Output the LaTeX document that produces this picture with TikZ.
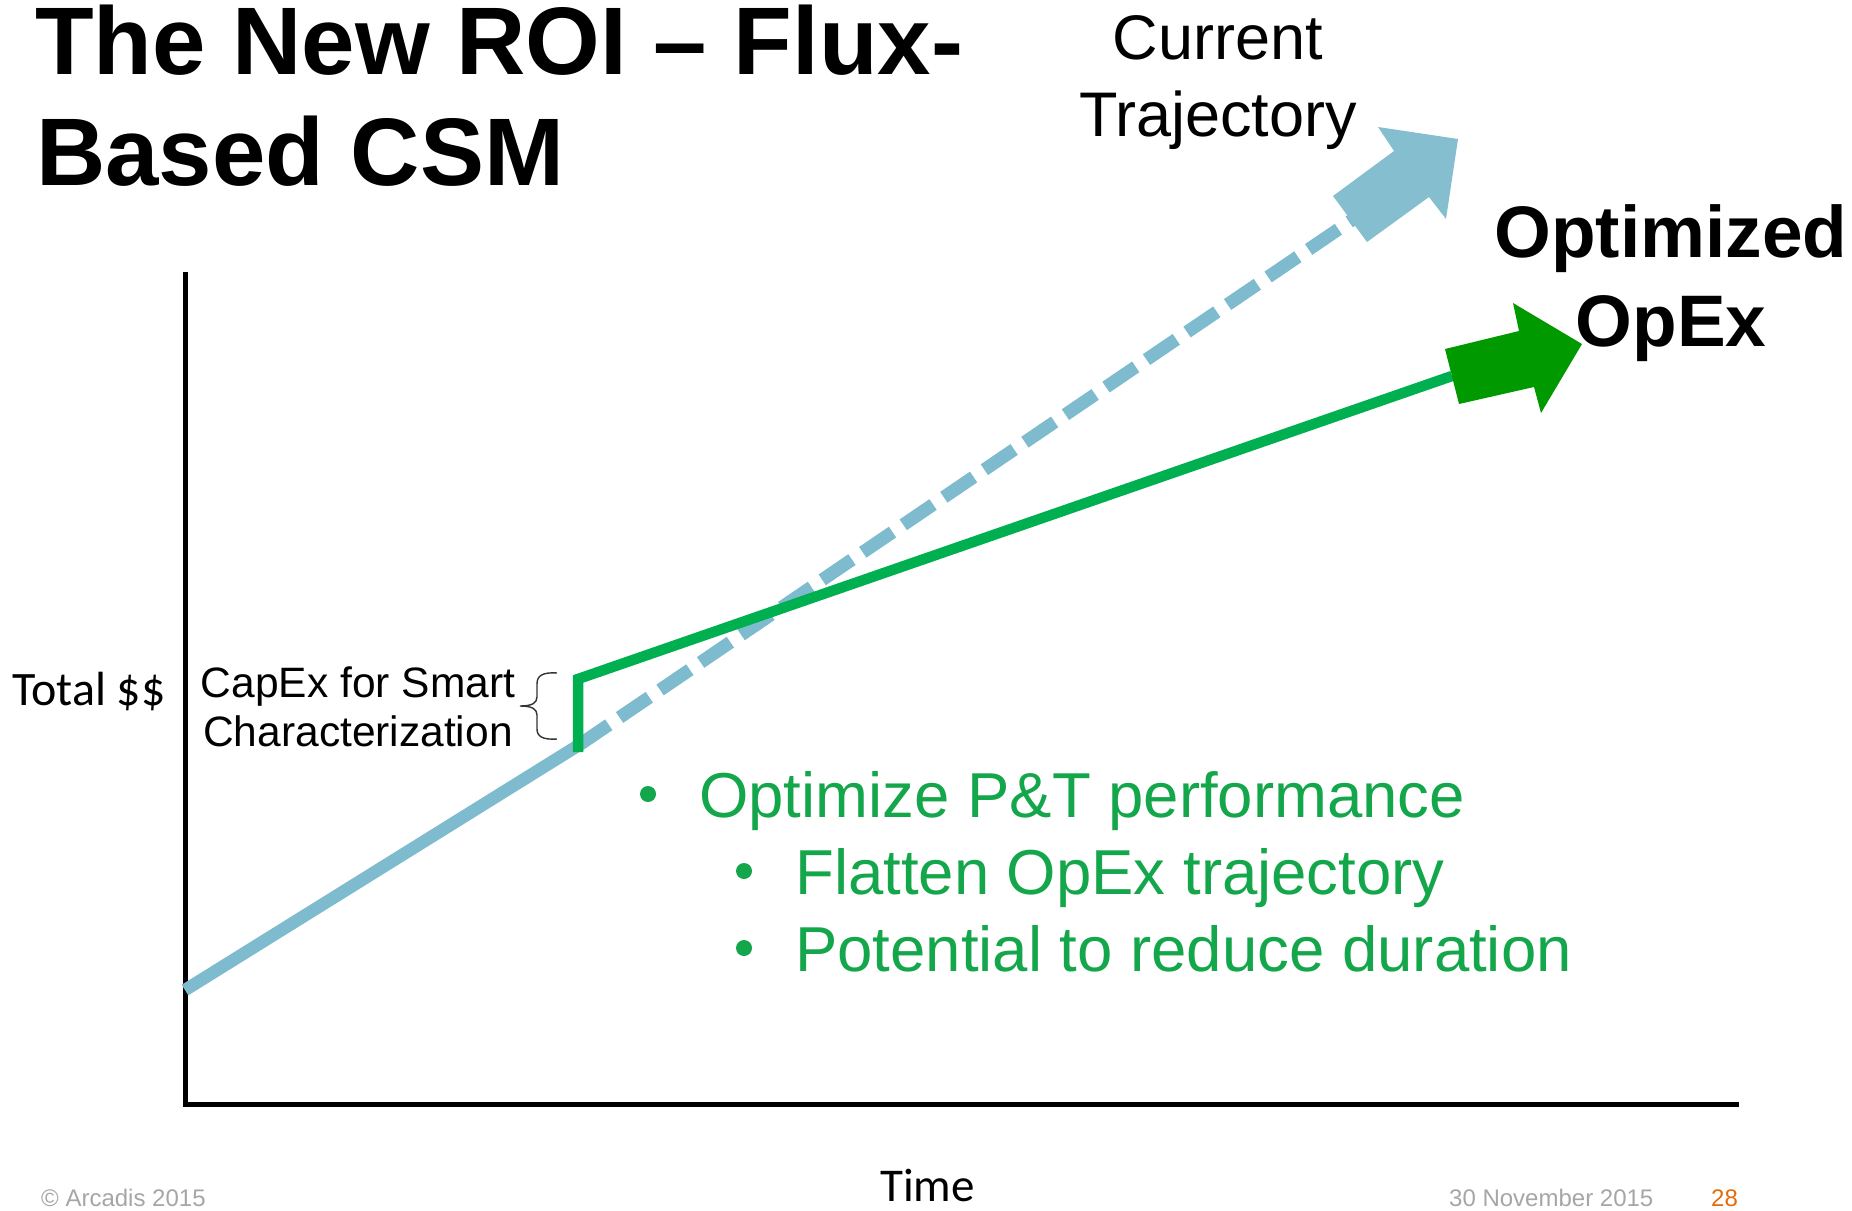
\documentclass[tikz,border=0pt]{standalone}
\usepackage{fontspec}
\setmainfont{Liberation Sans}
\newfontfamily\calfont{Carlito}
\definecolor{trajblue}{RGB}{127,187,206}
\definecolor{headblue}{RGB}{132,190,207}
\definecolor{optgreen}{RGB}{0,176,80}
\definecolor{headgreen}{RGB}{0,153,0}
\definecolor{txtgreen}{RGB}{20,166,74}
\definecolor{footgray}{RGB}{166,166,166}
\definecolor{pageorange}{RGB}{228,108,10}
\tikzset{
  lbl/.style={inner sep=0pt, anchor=base west},
  lblc/.style={inner sep=0pt, anchor=base},
  titlefont/.style={font=\bfseries\fontsize{96}{114}\selectfont},
  axisline/.style={line width=5pt, black, line join=miter},
  bluesolid/.style={line width=12.5pt, trajblue},
  bluedash/.style={line width=13pt, trajblue, dash pattern=on 36pt off 13pt},
  greenline/.style={line width=10.5pt, optgreen, line join=miter},
  bullettext/.style={lbl, text=txtgreen, font=\fontsize{63.5}{76}\selectfont},
  bulletdot/.style={circle, fill=txtgreen, inner sep=0pt, minimum size=16pt},
  foot/.style={lbl, text=footgray, font=\fontsize{24}{29}\selectfont}
}
\begin{document}
\begin{tikzpicture}[x=1pt,y=-1pt]
\useasboundingbox (0,0) rectangle (1852,1210);

% title
\node[lbl, titlefont] (title1) at (35,74) {The New ROI -- Flux-};
\node[lbl, titlefont] (title2) at (36,185) {Based CSM};

% axes
\coordinate (ytop) at (185,272);
\coordinate (orig) at (185,1104);
\coordinate (xend) at (1739,1104);
\draw[axisline] (ytop) -- (orig) -- (xend);

% current trajectory
\coordinate (b0) at (185,990);
\coordinate (b1) at (579,745);
\coordinate (b2) at (1352,220);
\draw[bluesolid] (b0) -- (b1);
\draw[bluedash] (b1) -- (b2);
\fill[headblue] (1333,196) -- (1394,151) -- (1378,127) -- (1458,139)
  -- (1446,219) -- (1429,197) -- (1367,242) -- cycle;

% optimized opex
\coordinate (g0) at (578,752);
\coordinate (g1) at (578,679);
\coordinate (g2) at (1452,376);
\draw[greenline] (g0) -- (g1) -- (g2);
\fill[headgreen] (1445,349) -- (1519,331) -- (1513,303) -- (1582,344)
  -- (1541,413) -- (1534,387) -- (1459,404) -- cycle;

% brace
\draw[line width=1.4pt, black!80] (557,673) .. controls (542,672) and (537,676) .. (537,684)
  -- (537,697) .. controls (537,703) and (532,706) .. (520,706)
  .. controls (532,706) and (537,709) .. (537,715)
  -- (537,729) .. controls (537,736) and (542,740) .. (557,739);

% labels
\node[lblc, font=\fontsize{63}{76}\selectfont] (cur1) at (1218,59) {Current};
\node[lblc, font=\fontsize{63}{76}\selectfont] (cur2) at (1218,136) {Trajectory};
\node[lblc, font=\bfseries\fontsize{73}{88}\selectfont] (opt1) at (1671,257) {Optimized};
\node[lblc, font=\bfseries\fontsize{73}{88}\selectfont] (opt2) at (1671,346) {OpEx};
\node[lblc, font=\fontsize{42.5}{49}\selectfont] (cap1) at (358,697) {CapEx for Smart};
\node[lblc, font=\fontsize{42.5}{49}\selectfont] (cap2) at (358,746) {Characterization};
\node[lbl, font=\calfont\fontsize{48}{56}\selectfont] (total) at (12,705) {Total \$\$};
\node[lbl, font=\calfont\fontsize{47}{56}\selectfont] (time) at (880,1201) {Time};

% bullets
\node[bulletdot] (d1) at (648,794) {};
\node[bullettext] (t1) at (699,817) {Optimize P\&T performance};
\node[bulletdot] (d2) at (744,871) {};
\node[bullettext] (t2) at (795,894) {Flatten OpEx trajectory};
\node[bulletdot] (d3) at (744,948) {};
\node[bullettext] (t3) at (795,971) {Potential to reduce duration};

% footer
\node[foot] (copy) at (41,1206) {\textcopyright{} Arcadis 2015};
\node[foot] (date) at (1449,1206) {30 November 2015};
\node[foot, text=pageorange] (page) at (1711,1206) {28};
\end{tikzpicture}
\end{document}
